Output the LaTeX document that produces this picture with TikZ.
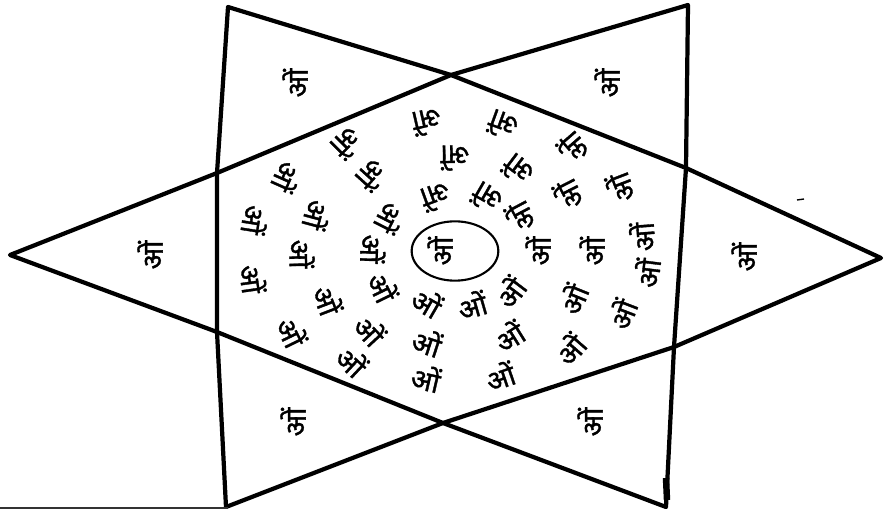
\documentclass[tikz,border=0pt]{standalone}
\usepackage{fontspec}
\newfontfamily\deva[Script=Devanagari, FakeBold=1.2]{Noto Sans}
\usetikzlibrary{shapes.geometric}

\begin{document}
\begin{tikzpicture}[
  x=0.03cm, y=-0.03cm,
  starline/.style={line width=3.6pt, line join=round},
  omtext/.style={font=\deva\fontsize{24}{24}\selectfont, inner sep=0pt},
  corner/.style={omtext, rotate=90}]
\fill[white] (0,0) rectangle (885,515);
\useasboundingbox (0,0) rectangle (885,515);
% points of the star and of the inner hexagon
\coordinate (L) at (10,255);
\coordinate (R) at (881,258);
\coordinate (TL) at (228,7);
\coordinate (TR) at (688,5);
\coordinate (BL) at (226,507);
\coordinate (BR) at (666,507);
\coordinate (T) at (451,75);
\coordinate (B) at (443,423);
\coordinate (LU) at (217,173);
\coordinate (LL) at (217,332);
\coordinate (RU) at (686,168);
\coordinate (RL) at (674,347);
\draw[starline] (L) -- (LU) -- (T) -- (TR) -- (RU) -- (RL) -- (BR) -- (B) -- (LL) -- cycle;
\draw[starline] (R) -- (RU) -- (T) -- (TL) -- (LU) -- (LL) -- (BL) -- (B) -- (RL) -- cycle;
\draw[line width=5.5pt] (666,478) -- (667,500);
\coordinate (s1) at (0,508);
\coordinate (s2) at (228,508);
\draw[line width=1.2pt, black!80] (s1) -- (s2);
\coordinate (d1) at (797,200);
\coordinate (d2) at (804,199);
\draw[line width=1.2pt] (d1) -- (d2);
% centre
\node[draw, ellipse, line width=1.8pt, minimum width=2.6cm, minimum height=1.78cm] (ring) at (455,251) {};
\node[corner] (cen) at (440,251) {ओं};
% the six points
\node[corner] (pTL) at (295,83) {ओं};
\node[corner] (pTR) at (607,83) {ओं};
\node[corner] (pL) at (150,255) {ओं};
\node[corner] (pR) at (744,257) {ओं};
\node[corner] (pBL) at (293,422) {ओं};
\node[corner] (pBR) at (590,422) {ओं};
% the hexagon
\node[omtext, rotate=193] (r1) at (427,122) {ओं};
\node[omtext, rotate=160] (r2) at (503,125) {ओं};
\node[omtext, rotate=225] (r3) at (347,143) {ओं};
\node[omtext, rotate=131] (r4) at (573,148) {ओं};
\node[omtext, rotate=181] (r5) at (455,158) {ओं};
\node[omtext, rotate=246] (r6) at (287,177) {ओं};
\node[omtext, rotate=228] (r7) at (372,175) {ओं};
\node[omtext, rotate=143] (r8) at (518,170) {ओं};
\node[omtext, rotate=111] (r9) at (620,188) {ओं};
\node[omtext, rotate=200] (r10) at (436,197) {ओं};
\node[omtext, rotate=150] (r11) at (487,198) {ओं};
\node[omtext, rotate=117] (r12) at (568,195) {ओं};
\node[omtext, rotate=261] (r13) at (255,220) {ओं};
\node[omtext, rotate=255] (r14) at (317,215) {ओं};
\node[omtext, rotate=243] (r15) at (390,218) {ओं};
\node[omtext, rotate=118] (r16) at (520,217) {ओं};
\node[omtext, rotate=94] (r17) at (642,237) {ओं};
\node[omtext, rotate=271] (r18) at (302,254) {ओं};
\node[omtext, rotate=269] (r19) at (373,249) {ओं};
\node[omtext, rotate=90] (r20) at (538,251) {ओं};
\node[omtext, rotate=90] (r21) at (592,251) {ओं};
\node[omtext, rotate=278] (r22) at (253,279) {ओं};
\node[omtext, rotate=83] (r23) at (647,273) {ओं};
\node[omtext, rotate=296] (r24) at (383,287) {ओं};
\node[omtext, rotate=291] (r25) at (328,300) {ओं};
\node[omtext, rotate=330] (r26) at (427,302) {ओं};
\node[omtext, rotate=16] (r27) at (472,305) {ओं};
\node[omtext, rotate=53] (r28) at (510,292) {ओं};
\node[omtext, rotate=68] (r29) at (573,299) {ओं};
\node[omtext, rotate=69] (r30) at (622,314) {ओं};
\node[omtext, rotate=296] (r31) at (292,332) {ओं};
\node[omtext, rotate=313] (r32) at (370,330) {ओं};
\node[omtext, rotate=342] (r33) at (427,342) {ओं};
\node[omtext, rotate=32] (r34) at (509,336) {ओं};
\node[omtext, rotate=49] (r35) at (570,349) {ओं};
\node[omtext, rotate=317] (r36) at (352,361) {ओं};
\node[omtext, rotate=347] (r37) at (426,378) {ओं};
\node[omtext, rotate=19] (r38) at (500,376) {ओं};
\end{tikzpicture}
\end{document}
